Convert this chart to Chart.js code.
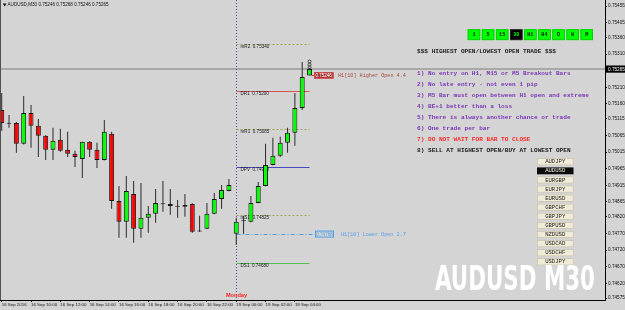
<!DOCTYPE html>
<html>
<head>
<meta charset="utf-8">
<title>AUDUSD M30</title>
<script src="https://cdn.jsdelivr.net/npm/chart.js@4.4.1/dist/chart.umd.min.js"></script>
<style>
  body { margin: 0; background: #d4d4d4; }
  canvas { display: block; }
</style>
</head>
<body>
<canvas id="mt4Chart" width="625" height="310"></canvas>
<script>
// AUDUSD M30, 16 Sep 08:00 -> 19 Sep 05:00, bars
const symbol = 'AUDUSD';
const period = 'M30';

const open = [
  0.75142, 0.75102, 0.75103, 0.75040, 0.75133, 0.75094, 0.75064, 0.75022, 0.75052, 0.75022,
  0.75010, 0.74994, 0.75046, 0.75022, 0.74991, 0.75070, 0.74868, 0.74805, 0.74889, 0.74784,
  0.74817, 0.74829, 0.74860, 0.74859, 0.74851, 0.74850, 0.74859, 0.74777, 0.74784, 0.74829,
  0.74874, 0.74898, 0.74769, 0.74807, 0.74805, 0.74862, 0.74913, 0.74976, 0.75004, 0.75043,
  0.75073, 0.75148, 0.75246
];
const high = [
  0.75193, 0.75127, 0.75106, 0.75184, 0.75157, 0.75115, 0.75066, 0.75088, 0.75085, 0.75076,
  0.75019, 0.75046, 0.75048, 0.75043, 0.75112, 0.75076, 0.74913, 0.74943, 0.74928, 0.74922,
  0.74853, 0.74904, 0.74928, 0.74904, 0.74871, 0.74889, 0.74861, 0.74823, 0.74862, 0.74892,
  0.74916, 0.74934, 0.74817, 0.74823, 0.74883, 0.74925, 0.75040, 0.75058, 0.75061, 0.75088,
  0.75193, 0.75286, 0.75268
];
const low = [
  0.75079, 0.75088, 0.75013, 0.75038, 0.75028, 0.75000, 0.74991, 0.74991, 0.75016, 0.75000,
  0.74970, 0.74937, 0.75000, 0.74967, 0.74990, 0.74844, 0.74757, 0.74757, 0.74742, 0.74757,
  0.74772, 0.74802, 0.74835, 0.74826, 0.74817, 0.74820, 0.74772, 0.74774, 0.74783, 0.74828,
  0.74844, 0.74897, 0.74736, 0.74769, 0.74804, 0.74861, 0.74912, 0.74975, 0.75000, 0.75013,
  0.75034, 0.75142, 0.75246
];
const close = [
  0.75103, 0.75100, 0.75040, 0.75133, 0.75094, 0.75064, 0.75022, 0.75049, 0.75019, 0.75010,
  0.75000, 0.75046, 0.75022, 0.74991, 0.75076, 0.74868, 0.74805, 0.74898, 0.74784, 0.74817,
  0.74829, 0.74862, 0.74858, 0.74853, 0.74850, 0.74856, 0.74775, 0.74776, 0.74829, 0.74874,
  0.74901, 0.74916, 0.74805, 0.74808, 0.74862, 0.74913, 0.74976, 0.75004, 0.75043, 0.75073,
  0.75148, 0.75241, 0.75265
];

// first bar of the new week (19 Sep 00:00)
const mondayIndex = 32;

// time axis, a label every 4 bars
const timeTicks = [0, 4, 8, 12, 16, 20, 24, 28, 32, 36, 40];
const timeLabels = ['16 Sep 2016', '16 Sep 10:00', '16 Sep 12:00', '16 Sep 14:00', '16 Sep 16:00',
  '16 Sep 18:00', '16 Sep 20:00', '16 Sep 22:00', '19 Sep 00:00', '19 Sep 02:00', '19 Sep 04:00'];

// price axis labels as printed by the terminal
const priceTicks = [0.75455, 0.75405, 0.75360, 0.75310, 0.75210, 0.75160, 0.75115, 0.75065, 0.75015,
  0.74965, 0.74915, 0.74865, 0.74820, 0.74770, 0.74720, 0.74670, 0.74620, 0.74575];

// pivots for the day
const pivotNames = ['mR2', 'DR1', 'mR1', 'DPV', 'mS1', 'DS1'];
const pivotLevels = [0.75340, 0.75200, 0.75085, 0.74970, 0.74825, 0.74680];
const pivotColors = ['#a0a058', '#d85555', '#a0a058', '#4848c0', '#a0a058', '#55c055'];
const pivotDashes = [[2, 2], [], [2, 2], [], [2, 2], []];

// H1[10] open extremes
const higherOpen = 0.75246, higherPips = 4.4;
const lowerOpen = 0.74768, lowerPips = 2.7;

// panel on the right
const timeframes = ['1', '5', '15', '30', 'H1', 'H4', 'D', 'W', 'M'];
const pairs = ['AUDJPY', 'AUDUSD', 'EURGBP', 'EURJPY', 'EURUSD', 'GBPCHF', 'GBPJPY', 'GBPUSD',
  'NZDUSD', 'USDCAD', 'USDCHF', 'USDJPY'];
const rules = [
  '1) No entry on H1, M15 or M5 Breakout Bars',
  '2) No late entry - not even 1 pip',
  '3) M5 Bar must open between H1 open and extreme',
  '4) BE+1 better than a loss',
  '5) There is always another chance or trade',
  '6) One trade per bar',
  '7) DO NOT WAIT FOR BAR TO CLOSE',
  '8) SELL AT HIGHEST OPEN/BUY AT LOWEST OPEN'
];
const ruleColors = ['#7a34b8', '#7a34b8', '#7a34b8', '#7a34b8', '#7a34b8', '#7a34b8', '#ff2a2a', '#1a1a1a'];

const MONO = "'Liberation Mono', 'DejaVu Sans Mono', monospace";
const SANS = "'Liberation Sans', Arial, sans-serif";

function candleColor(i) {
  const d = close[i] - open[i];
  if (Math.abs(d) < 0.00004) return '#222222';
  return d > 0 ? '#00ff00' : '#ff0000';
}

function hline(ctx, x1, x2, y) {
  ctx.beginPath();
  ctx.moveTo(x1, y);
  ctx.lineTo(x2, y);
  ctx.stroke();
}

function text(ctx, s, x, y, font, color, align) {
  ctx.font = font;
  ctx.fillStyle = color;
  ctx.textAlign = align || 'left';
  ctx.textBaseline = 'middle';
  ctx.fillText(s, x, y);
}

const overlay = {
  id: 'overlay',
  beforeDraw(chart) {
    const ctx = chart.ctx;
    ctx.save();
    ctx.fillStyle = '#d4d4d4';
    ctx.fillRect(0, 0, chart.width, chart.height);
    ctx.restore();
  },
  beforeDatasetsDraw(chart) {
    const { ctx, chartArea: a, scales: { x, y } } = chart;
    const last = close.length - 1;
    ctx.save();

    // bid line
    ctx.strokeStyle = '#a8a8a8';
    ctx.lineWidth = 2;
    hline(ctx, a.left, a.right, y.getPixelForValue(close[last]));

    // period separator
    const xs = Math.round(x.getPixelForValue(mondayIndex)) + 0.5;
    ctx.strokeStyle = '#4a4aa8';
    ctx.lineWidth = 1;
    ctx.setLineDash([1, 2]);
    ctx.beginPath();
    ctx.moveTo(xs, a.top);
    ctx.lineTo(xs, a.bottom);
    ctx.stroke();

    // pivots
    const xe = x.getPixelForValue(last);
    pivotLevels.forEach((lvl, k) => {
      const py = Math.round(y.getPixelForValue(lvl)) + 0.5;
      ctx.strokeStyle = pivotColors[k];
      ctx.setLineDash(pivotDashes[k]);
      hline(ctx, xs, xe, py);
      ctx.setLineDash([]);
      text(ctx, pivotNames[k] + '  ' + lvl.toFixed(5), xs + 4, py + 2.6, '4.6px ' + SANS, '#1a1a1a');
    });

    // lower open line (dash dot)
    const yl = Math.round(y.getPixelForValue(lowerOpen)) + 0.5;
    ctx.strokeStyle = '#4f9be6';
    ctx.setLineDash([4, 2, 1, 2]);
    hline(ctx, xs, 314, yl);
    ctx.setLineDash([]);
    ctx.restore();
  },
  afterDatasetsDraw(chart) {
    const { ctx, chartArea: a, scales: { x, y } } = chart;
    const last = close.length - 1;
    ctx.save();

    // higher open marker
    const yh = y.getPixelForValue(higherOpen);
    ctx.strokeStyle = '#c03c3c';
    ctx.lineWidth = 1;
    hline(ctx, x.getPixelForValue(last) + 2, 314, Math.round(yh) + 0.5);
    ctx.fillStyle = '#a53838';
    ctx.fillRect(314, yh - 3.2, 19.5, 6.4);
    ctx.strokeStyle = '#d04848';
    ctx.strokeRect(314.5, yh - 2.7, 18.5, 5.4);
    text(ctx, higherOpen.toFixed(5), 323.7, yh + 0.2, '4.5px ' + SANS, '#ffffff', 'center');
    text(ctx, 'H1[10] Higher Open ' + higherPips.toFixed(1), 338, yh + 0.4, '5.15px ' + MONO, '#a34a3c');

    // lower open marker
    const yl = y.getPixelForValue(lowerOpen);
    ctx.strokeStyle = '#4f9be6';
    ctx.strokeRect(315.5, yl - 3, 18, 6);
    text(ctx, lowerOpen.toFixed(5), 324.5, yl + 0.2, '4.5px ' + SANS, '#4f9be6', 'center');
    text(ctx, 'H1[10] Lower Open ' + lowerPips.toFixed(1), 341, yl + 0.2, '5.15px ' + MONO, '#5a9ee6');

    // arrow markers above the live bar
    const xl = x.getPixelForValue(last);
    ctx.strokeStyle = '#333';
    ctx.lineWidth = 0.9;
    [61.5, 64.5, 67.5].forEach(cy => {
      ctx.beginPath();
      ctx.arc(xl, cy, 1.5, 0, Math.PI * 2);
      ctx.stroke();
    });

    // timeframe buttons
    timeframes.forEach((tf, k) => {
      const bx = 467.7 + k * 14.1;
      const active = tf === period.slice(1);
      ctx.fillStyle = active ? '#000000' : '#00ff00';
      ctx.fillRect(bx, 29.3, 12.5, 10.8);
      ctx.strokeStyle = active ? '#303030' : '#00c800';
      ctx.lineWidth = 0.8;
      ctx.strokeRect(bx + 0.4, 29.7, 11.7, 10);
      text(ctx, tf, bx + 6.25, 34.9, 'bold 5.2px ' + MONO, active ? '#00ff00' : '#1a1a1a', 'center');
    });

    // trading rules
    text(ctx, '$$$ HIGHEST OPEN/LOWEST OPEN TRADE $$$', 417, 51, 'bold 6.1px ' + MONO, '#222222');
    rules.forEach((r, k) => {
      text(ctx, r, 417, 73.2 + k * 11, 'bold 6.1px ' + MONO, ruleColors[k]);
    });

    // symbol buttons
    pairs.forEach((p, k) => {
      const by = 158.3 + k * 9.1;
      const active = p === symbol;
      ctx.fillStyle = active ? '#0c0c0c' : '#efebd6';
      ctx.fillRect(537, by, 36.5, 6.9);
      if (!active) {
        ctx.strokeStyle = '#bdb9a4';
        ctx.lineWidth = 0.6;
        ctx.strokeRect(537.3, by + 0.3, 35.9, 6.3);
      }
      text(ctx, p, 555.2, by + 3.6, '5.6px ' + MONO, active ? '#efebd6' : '#222222', 'center');
    });

    // watermark
    ctx.font = "bold 34px 'Liberation Sans Narrow', 'DejaVu Sans Condensed', 'Liberation Sans', sans-serif";
    const wm = symbol + ' ' + period;
    const ww = ctx.measureText(wm).width;
    ctx.save();
    ctx.translate(435, 290);
    ctx.scale(160 / ww, 1);
    ctx.fillStyle = '#ffffff';
    ctx.textAlign = 'left';
    ctx.textBaseline = 'alphabetic';
    ctx.fillText(wm, 0, 0);
    ctx.restore();

    ctx.restore();
  },
  afterDraw(chart) {
    const { ctx, chartArea: a, scales: { x, y } } = chart;
    const last = close.length - 1;
    ctx.save();

    // left frame
    ctx.strokeStyle = '#505050';
    ctx.lineWidth = 1;
    ctx.beginPath();
    ctx.moveTo(0.5, a.top);
    ctx.lineTo(0.5, a.bottom);
    ctx.stroke();

    // header
    ctx.fillStyle = '#111';
    ctx.beginPath();
    ctx.moveTo(2.8, 3.4);
    ctx.lineTo(6.6, 3.4);
    ctx.lineTo(4.7, 6.4);
    ctx.closePath();
    ctx.fill();
    const ohlc = [open[last], high[last], low[last], close[last]].map(v => v.toFixed(5)).join(' ');
    text(ctx, symbol + ',' + period + ' ' + ohlc, 7.5, 5, '4.6px ' + SANS, '#111111');

    // bid price box
    const yc = y.getPixelForValue(close[last]);
    ctx.fillStyle = '#000000';
    ctx.fillRect(a.right + 1, yc - 3.6, 625 - a.right - 1, 7.2);
    text(ctx, close[last].toFixed(5), a.right + 3, yc + 0.2, '4.7px ' + SANS, '#ffffff');

    // day label
    text(ctx, 'Monday', Math.round(x.getPixelForValue(mondayIndex)) + 0.5, 295.6, 'bold 5.6px ' + SANS, '#ff2222', 'center');
    ctx.restore();
  }
};

const bodies = open.map((o, i) => ({ x: i, y: [o, close[i]] }));
const wicks = low.map((l, i) => ({ x: i, y: [l, high[i]] }));

new Chart(document.getElementById('mt4Chart'), {
  type: 'bar',
  data: {
    datasets: [
      {
        label: 'Body',
        data: bodies,
        order: 0,
        maxBarThickness: 5,
        minBarLength: 1,
        borderWidth: 1,
        borderSkipped: false,
        borderColor: '#161616',
        backgroundColor: c => (c.dataIndex === undefined ? '#00ff00' : candleColor(c.dataIndex))
      },
      {
        label: 'Wick',
        data: wicks,
        order: 1,
        maxBarThickness: 1,
        borderWidth: 0,
        backgroundColor: '#2a2a2a'
      }
    ]
  },
  options: {
    responsive: false,
    animation: false,
    events: [],
    layout: { padding: 0 },
    datasets: { bar: { grouped: false, inflateAmount: 0, barPercentage: 1, categoryPercentage: 1 } },
    plugins: {
      legend: { display: false },
      tooltip: { enabled: false },
      title: { display: false }
    },
    scales: {
      x: {
        type: 'linear',
        min: -0.232,
        max: 82.31,
        offset: false,
        bounds: 'data',
        grid: { offset: false, drawOnChartArea: false, drawTicks: true, tickLength: 2, color: '#000' },
        border: { display: true, color: '#000', width: 1 },
        ticks: {
          autoSkip: false,
          maxRotation: 0,
          align: 'start',
          padding: 0.5,
          color: '#111',
          font: { family: SANS, size: 4.4 },
          callback: v => {
            const k = timeTicks.indexOf(v);
            return k >= 0 ? timeLabels[k] : '';
          }
        },
        afterBuildTicks: s => { s.ticks = timeTicks.map(v => ({ value: v })); },
        afterFit: s => { s.height = 10; s.paddingLeft = 0; s.paddingRight = 0; }
      },
      y: {
        type: 'linear',
        position: 'right',
        min: 0.745695,
        max: 0.754731,
        bounds: 'data',
        grid: { drawOnChartArea: false, drawTicks: true, tickLength: 2, color: '#000' },
        border: { display: true, color: '#000', width: 1 },
        ticks: {
          padding: 1,
          color: '#111',
          font: { family: SANS, size: 4.7 },
          callback: v => Number(v).toFixed(5)
        },
        afterBuildTicks: s => { s.ticks = priceTicks.map(v => ({ value: v })); },
        afterFit: s => { s.width = 20; s.paddingTop = 0; s.paddingBottom = 0; }
      }
    }
  },
  plugins: [overlay]
});
</script>
</body>
</html>
